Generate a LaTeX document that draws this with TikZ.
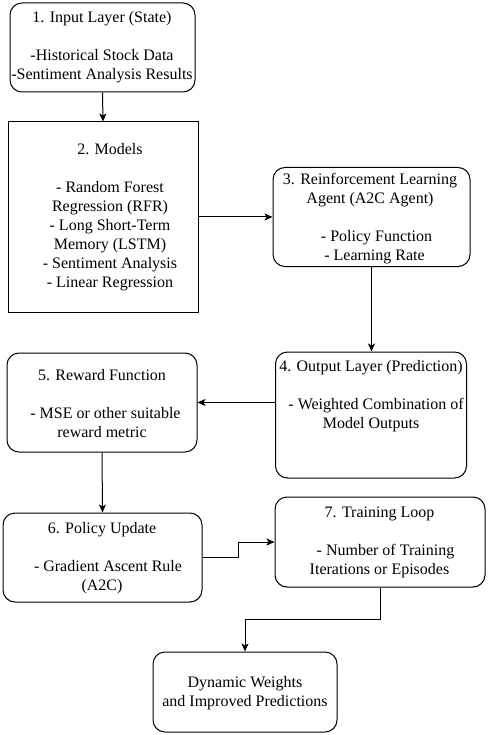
\documentclass[tikz,border=0pt]{standalone}
\usepackage{fontspec}
\setmainfont{Liberation Serif}
\usetikzlibrary{arrows.meta}
\newcommand\rs[2]{\hspace*{#1}#2}
\newcommand\ls[2]{#2\hspace*{#1}}
\tikzset{
  rbox/.style={draw=black, line width=1pt, rounded corners=12pt, fill=white, inner sep=0pt},
  sbox/.style={draw=black, line width=1pt, fill=white, inner sep=0pt},
  txt/.style={align=center, inner sep=0pt, font=\rmfamily\fontsize{16}{19}\selectfont},
  conn/.style={line width=1pt, -{Stealth[length=8pt,width=7pt,inset=2pt]}},
}
\begin{document}
\begin{tikzpicture}[x=1pt,y=-1pt]
\useasboundingbox (0,0) rectangle (488,735);
% boxes
\node[rbox, minimum width=185pt, minimum height=89pt] (b1) at (102.5,47.5) {};
\node[sbox, minimum width=190pt, minimum height=190pt] (b2) at (103,217) {};
\node[rbox, minimum width=197pt, minimum height=99pt] (b3) at (371.5,217) {};
\node[rbox, minimum width=191pt, minimum height=126pt] (b4) at (371,415) {};
\node[rbox, minimum width=190pt, minimum height=99pt] (b5) at (102,402.5) {};
\node[rbox, minimum width=199pt, minimum height=89pt] (b6) at (102.5,557.5) {};
\node[rbox, minimum width=210pt, minimum height=90pt] (b7) at (380,542) {};
\node[rbox, minimum width=184pt, minimum height=80pt] (b8) at (245,692) {};
% texts
\node[txt] (t1) at (102,47.5) {1. Input Layer (State)\\\strut\\-Historical Stock Data\\-Sentiment Analysis Results};
\node[txt] (t2) at (110,217.5) {2. Models\\\strut\\\ls{8pt}{- Random Forest}\\\ls{35pt}{Regression (RFR)}\\- Long Short-Term\\\ls{41pt}{Memory (LSTM)}\\- Sentiment Analysis\\- Linear Regression};
\node[txt] (t3) at (370,219) {3. Reinforcement Learning\\Agent (A2C Agent)\\\strut\\\rs{13pt}{- Policy Function}\\\rs{9pt}{- Learning Rate}};
\node[txt] (t4) at (371,396.5) {4. Output Layer (Prediction)\\\strut\\\rs{10pt}{- Weighted Combination of}\\Model Outputs};
\node[txt] (t5) at (102,403.5) {5. Reward Function\\\strut\\\rs{7pt}{- MSE or other suitable}\\reward metric};
\node[txt] (t6) at (102,558.5) {6. Policy Update\\\strut\\\rs{12pt}{- Gradient Ascent Rule}\\(A2C)};
\node[txt] (t7) at (379.5,542.5) {7. Training Loop\\\strut\\\rs{12pt}{- Number of Training}\\Iterations or Episodes};
\node[txt] (t8) at (245,693) {Dynamic Weights\\and Improved Predictions};
% connectors
\draw[conn] (b1.south) -- (b2.north);
\draw[conn] (b2.east) -- (b2.east -| b3.west);
\draw[conn] (b3.south) -- (b3.south |- b4.north);
\draw[conn] (b4.west |- b5.east) -- (b5.east);
\draw[conn] (b5.south) -- (b6.north);
\coordinate (m67) at (238.5,0);
\draw[conn] (b6.east) -- (m67 |- b6.east) -- (m67 |- b7.west) -- (b7.west);
\coordinate (m78) at (0,619.5);
\draw[conn] (b7.south) -- (b7.south |- m78) -- (b8.north |- m78) -- (b8.north);
\end{tikzpicture}
\end{document}
